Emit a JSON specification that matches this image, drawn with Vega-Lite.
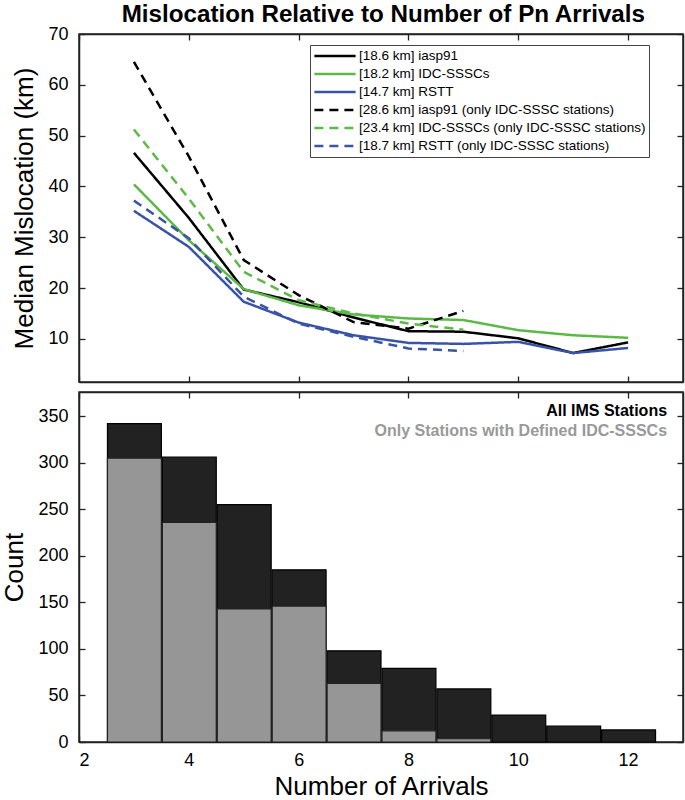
{
  "$schema": "https://vega.github.io/schema/vega-lite/v6.json",
  "padding": {"top": 3, "left": 0, "right": 0, "bottom": 0},
  "background": "white",
  "title": {"text": "Mislocation Relative to Number of Pn Arrivals", "font": "Liberation Sans", "fontSize": 24.2, "fontWeight": "bold", "color": "black", "anchor": "middle", "offset": -3, "dx": 41},
  "config": {
    "view": {"stroke": "#222", "strokeWidth": 1.5},
    "concat": {"spacing": 6},
    "axis": {
      "grid": false,
      "domainColor": "#222",
      "domainWidth": 1.5,
      "tickColor": "#222",
      "tickWidth": 1.3,
      "tickSize": -6,
      "labelFont": "Liberation Sans",
      "labelFontSize": 18,
      "labelColor": "black",
      "titleFont": "Liberation Sans",
      "titleFontSize": 26,
      "titleFontWeight": "normal",
      "titleColor": "black"
    }
  },
  "datasets": {
    "lines": [
      {"series": "[18.6 km] iasp91", "n": 3, "km": 46.6},
      {"series": "[18.6 km] iasp91", "n": 4, "km": 33.8},
      {"series": "[18.6 km] iasp91", "n": 5, "km": 19.7},
      {"series": "[18.6 km] iasp91", "n": 6, "km": 17.2},
      {"series": "[18.6 km] iasp91", "n": 7, "km": 14.2},
      {"series": "[18.6 km] iasp91", "n": 8, "km": 11.5},
      {"series": "[18.6 km] iasp91", "n": 9, "km": 11.4},
      {"series": "[18.6 km] iasp91", "n": 10, "km": 10.1},
      {"series": "[18.6 km] iasp91", "n": 11, "km": 7.2},
      {"series": "[18.6 km] iasp91", "n": 12, "km": 9.3},
      {"series": "[18.2 km] IDC-SSSCs", "n": 3, "km": 40.4},
      {"series": "[18.2 km] IDC-SSSCs", "n": 4, "km": 29.4},
      {"series": "[18.2 km] IDC-SSSCs", "n": 5, "km": 19.8},
      {"series": "[18.2 km] IDC-SSSCs", "n": 6, "km": 16.6},
      {"series": "[18.2 km] IDC-SSSCs", "n": 7, "km": 14.8},
      {"series": "[18.2 km] IDC-SSSCs", "n": 8, "km": 14.0},
      {"series": "[18.2 km] IDC-SSSCs", "n": 9, "km": 13.7},
      {"series": "[18.2 km] IDC-SSSCs", "n": 10, "km": 11.7},
      {"series": "[18.2 km] IDC-SSSCs", "n": 11, "km": 10.7},
      {"series": "[18.2 km] IDC-SSSCs", "n": 12, "km": 10.2},
      {"series": "[14.7 km] RSTT", "n": 3, "km": 35.2},
      {"series": "[14.7 km] RSTT", "n": 4, "km": 28.1},
      {"series": "[14.7 km] RSTT", "n": 5, "km": 17.3},
      {"series": "[14.7 km] RSTT", "n": 6, "km": 13.2},
      {"series": "[14.7 km] RSTT", "n": 7, "km": 10.7},
      {"series": "[14.7 km] RSTT", "n": 8, "km": 9.2},
      {"series": "[14.7 km] RSTT", "n": 9, "km": 9.0},
      {"series": "[14.7 km] RSTT", "n": 10, "km": 9.4},
      {"series": "[14.7 km] RSTT", "n": 11, "km": 7.2},
      {"series": "[14.7 km] RSTT", "n": 12, "km": 8.2},
      {"series": "[28.6 km] iasp91 (only IDC-SSSC stations)", "n": 3, "km": 64.5},
      {"series": "[28.6 km] iasp91 (only IDC-SSSC stations)", "n": 4, "km": 45.9},
      {"series": "[28.6 km] iasp91 (only IDC-SSSC stations)", "n": 5, "km": 25.5},
      {"series": "[28.6 km] iasp91 (only IDC-SSSC stations)", "n": 6, "km": 18.6},
      {"series": "[28.6 km] iasp91 (only IDC-SSSC stations)", "n": 7, "km": 13.3},
      {"series": "[28.6 km] iasp91 (only IDC-SSSC stations)", "n": 8, "km": 12.0},
      {"series": "[28.6 km] iasp91 (only IDC-SSSC stations)", "n": 9, "km": 15.5},
      {"series": "[23.4 km] IDC-SSSCs (only IDC-SSSC stations)", "n": 3, "km": 51.2},
      {"series": "[23.4 km] IDC-SSSCs (only IDC-SSSC stations)", "n": 4, "km": 37.6},
      {"series": "[23.4 km] IDC-SSSCs (only IDC-SSSC stations)", "n": 5, "km": 23.2},
      {"series": "[23.4 km] IDC-SSSCs (only IDC-SSSC stations)", "n": 6, "km": 17.6},
      {"series": "[23.4 km] IDC-SSSCs (only IDC-SSSC stations)", "n": 7, "km": 15.0},
      {"series": "[23.4 km] IDC-SSSCs (only IDC-SSSC stations)", "n": 8, "km": 13.0},
      {"series": "[23.4 km] IDC-SSSCs (only IDC-SSSC stations)", "n": 9, "km": 11.8},
      {"series": "[18.7 km] RSTT (only IDC-SSSC stations)", "n": 3, "km": 37.2},
      {"series": "[18.7 km] RSTT (only IDC-SSSC stations)", "n": 4, "km": 29.8},
      {"series": "[18.7 km] RSTT (only IDC-SSSC stations)", "n": 5, "km": 18.3},
      {"series": "[18.7 km] RSTT (only IDC-SSSC stations)", "n": 6, "km": 13.0},
      {"series": "[18.7 km] RSTT (only IDC-SSSC stations)", "n": 7, "km": 10.4},
      {"series": "[18.7 km] RSTT (only IDC-SSSC stations)", "n": 8, "km": 8.1},
      {"series": "[18.7 km] RSTT (only IDC-SSSC stations)", "n": 9, "km": 7.6}
    ],
    "hist": [
      {"n": 3, "lo": 2.5, "hi": 3.5, "all": 342, "sssc": 305},
      {"n": 4, "lo": 3.5, "hi": 4.5, "all": 306, "sssc": 236},
      {"n": 5, "lo": 4.5, "hi": 5.5, "all": 255, "sssc": 143},
      {"n": 6, "lo": 5.5, "hi": 6.5, "all": 185, "sssc": 146},
      {"n": 7, "lo": 6.5, "hi": 7.5, "all": 98, "sssc": 63},
      {"n": 8, "lo": 7.5, "hi": 8.5, "all": 79, "sssc": 12},
      {"n": 9, "lo": 8.5, "hi": 9.5, "all": 57, "sssc": 3.5},
      {"n": 10, "lo": 9.5, "hi": 10.5, "all": 29, "sssc": 0},
      {"n": 11, "lo": 10.5, "hi": 11.5, "all": 17, "sssc": 0},
      {"n": 12, "lo": 11.5, "hi": 12.5, "all": 13, "sssc": 0}
    ],
    "notes": [
      {"label": "All IMS Stations", "x": 12.71, "y": 355.5},
      {"label": "Only Stations with Defined IDC-SSSCs", "x": 12.71, "y": 334}
    ]
  },
  "vconcat": [
    {
      "width": 604,
      "height": 348,
      "data": {"name": "lines"},
      "layer": [
        {
          "mark": {"type": "line", "strokeWidth": 2.5},
          "encoding": {
            "x": {"field": "n", "type": "quantitative", "scale": {"domain": [2, 13], "nice": false, "zero": false}, "axis": {"orient": "bottom", "values": [2, 4, 6, 8, 10, 12], "labels": false, "title": null}},
            "y": {"field": "km", "type": "quantitative", "scale": {"domain": [1.5, 70], "nice": false, "zero": false}, "axis": {"orient": "left", "values": [10, 20, 30, 40, 50, 60, 70], "title": "Median Mislocation (km)", "labelPadding": 17, "minExtent": 36, "maxExtent": 36, "titlePadding": 6}},
            "color": {
              "field": "series", "type": "nominal",
              "scale": {
                "domain": ["[18.6 km] iasp91", "[18.2 km] IDC-SSSCs", "[14.7 km] RSTT", "[28.6 km] iasp91 (only IDC-SSSC stations)", "[23.4 km] IDC-SSSCs (only IDC-SSSC stations)", "[18.7 km] RSTT (only IDC-SSSC stations)"],
                "range": ["#000000", "#5cb946", "#3953a6", "#000000", "#5cb946", "#3953a6"]
              },
              "legend": {"title": null, "orient": "none", "legendX": 231, "legendY": 11, "symbolType": "stroke", "symbolSize": 1700, "symbolStrokeWidth": 2.5, "clipHeight": 16, "labelFont": "Liberation Sans", "labelFontSize": 13.5, "labelColor": "black", "labelLimit": 400, "labelOffset": 2, "strokeColor": "#444", "fillColor": "white", "padding": 3, "rowPadding": 2}
            },
            "strokeDash": {
              "field": "series", "type": "nominal",
              "scale": {
                "domain": ["[18.6 km] iasp91", "[18.2 km] IDC-SSSCs", "[14.7 km] RSTT", "[28.6 km] iasp91 (only IDC-SSSC stations)", "[23.4 km] IDC-SSSCs (only IDC-SSSC stations)", "[18.7 km] RSTT (only IDC-SSSC stations)"],
                "range": [[1, 0], [1, 0], [1, 0], [9, 6], [9, 6], [9, 6]]
              },
              "legend": {"title": null, "orient": "none", "legendX": 231, "legendY": 11, "symbolType": "stroke", "symbolSize": 1700, "symbolStrokeWidth": 2.5, "clipHeight": 16, "labelFont": "Liberation Sans", "labelFontSize": 13.5, "labelColor": "black", "labelLimit": 400, "labelOffset": 2, "strokeColor": "#444", "fillColor": "white", "padding": 3, "rowPadding": 2}
            }
          }
        },
        {
          "mark": {"type": "point", "opacity": 0},
          "encoding": {
            "x": {"field": "n", "type": "quantitative", "scale": {"domain": [2, 13], "nice": false, "zero": false}, "axis": {"orient": "top", "values": [2, 4, 6, 8, 10, 12], "labels": false, "title": null}},
            "y": {"field": "km", "type": "quantitative", "scale": {"domain": [1.5, 70], "nice": false, "zero": false}, "axis": {"orient": "right", "values": [10, 20, 30, 40, 50, 60, 70], "labels": false, "title": null}}
          }
        }
      ],
      "resolve": {"axis": {"x": "independent", "y": "independent"}}
    },
    {
      "width": 604,
      "height": 350,
      "layer": [
        {
          "data": {"name": "hist"},
          "mark": {"type": "bar", "fill": "#222222", "stroke": "#000000", "strokeWidth": 1.2},
          "encoding": {
            "x": {"field": "lo", "bin": "binned", "type": "quantitative", "scale": {"domain": [2, 13], "nice": false, "zero": false}, "axis": {"orient": "bottom", "values": [2, 4, 6, 8, 10, 12], "title": "Number of Arrivals", "labelPadding": 15, "titlePadding": 4}},
            "x2": {"field": "hi"},
            "y": {"field": "all", "type": "quantitative", "scale": {"domain": [0, 376], "nice": false}, "axis": {"orient": "left", "values": [0, 50, 100, 150, 200, 250, 300, 350], "title": "Count", "labelPadding": 17, "minExtent": 36, "maxExtent": 36, "titlePadding": 16}}
          }
        },
        {
          "data": {"name": "hist"},
          "transform": [{"filter": "datum.sssc > 0"}],
          "mark": {"type": "bar", "fill": "#969696", "stroke": "#222222", "strokeWidth": 1.2},
          "encoding": {
            "x": {"field": "lo", "bin": "binned", "type": "quantitative", "axis": null},
            "x2": {"field": "hi"},
            "y": {"field": "sssc", "type": "quantitative", "axis": null}
          }
        },
        {
          "data": {"name": "notes"},
          "transform": [{"filter": "datum.label == 'All IMS Stations'"}],
          "mark": {"type": "text", "align": "right", "baseline": "middle", "font": "Liberation Sans", "fontWeight": "bold", "fontSize": 16, "color": "#000000"},
          "encoding": {
            "x": {"field": "x", "type": "quantitative", "axis": null},
            "y": {"field": "y", "type": "quantitative", "axis": null},
            "text": {"field": "label"}
          }
        },
        {
          "data": {"name": "notes"},
          "transform": [{"filter": "datum.label != 'All IMS Stations'"}],
          "mark": {"type": "text", "align": "right", "baseline": "middle", "font": "Liberation Sans", "fontWeight": "bold", "fontSize": 16, "color": "#999999"},
          "encoding": {
            "x": {"field": "x", "type": "quantitative", "axis": null},
            "y": {"field": "y", "type": "quantitative", "axis": null},
            "text": {"field": "label"}
          }
        },
        {
          "data": {"name": "hist"},
          "mark": {"type": "point", "opacity": 0},
          "encoding": {
            "x": {"field": "lo", "type": "quantitative", "axis": {"orient": "top", "values": [2, 4, 6, 8, 10, 12], "labels": false, "title": null}},
            "y": {"field": "all", "type": "quantitative", "axis": {"orient": "right", "values": [0, 50, 100, 150, 200, 250, 300, 350], "labels": false, "title": null}}
          }
        }
      ],
      "resolve": {"axis": {"x": "independent", "y": "independent"}}
    }
  ]
}
